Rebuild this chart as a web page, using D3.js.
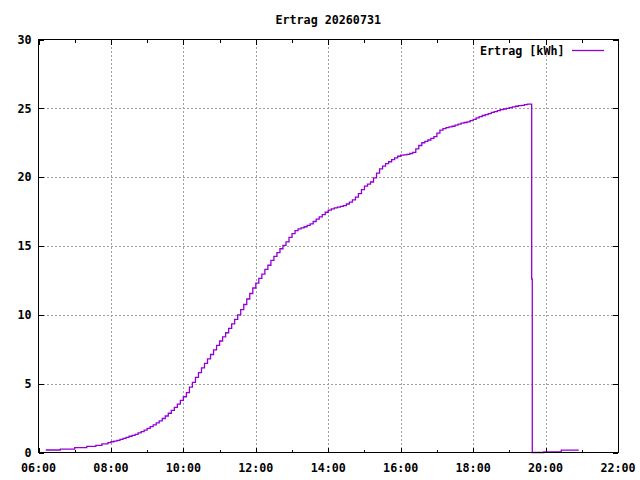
<html>
<head>
  <script src="https://d3js.org/d3.v7.min.js"></script>
  <style>
    body { margin: 0; background: white; }
    text { font-family: "DejaVu Sans Mono", monospace; font-size: 11.7px; font-weight: bold; fill: black; }
    .grid line { stroke: #a0a0a0; stroke-width: 1; stroke-dasharray: 2,2; shape-rendering: crispEdges; }
    .tick-mark { stroke: black; stroke-width: 1; shape-rendering: crispEdges; }
    .border { fill: none; stroke: black; stroke-width: 1; shape-rendering: crispEdges; }
    .curve { fill: none; stroke: #9400d3; stroke-width: 1.3; }
  </style>
</head>
<body>
<svg id="chart" width="640" height="480"></svg>
<script>
// chart data
const title = "Ertrag 20260731";
const seriesName = "Ertrag [kWh]";
const times = [
  "06:12","06:36","07:00","07:20","07:35","07:45","07:55",
  "08:00","08:05","08:10","08:15","08:20","08:25","08:30","08:35","08:40","08:45","08:50","08:55",
  "09:00","09:05","09:10","09:15","09:20","09:25","09:30","09:35","09:40","09:45","09:50","09:55",
  "10:00","10:05","10:10","10:15","10:20","10:25","10:30","10:35","10:40","10:45","10:50","10:55",
  "11:00","11:05","11:10","11:15","11:20","11:25","11:30","11:35","11:40","11:45","11:50","11:55",
  "12:00","12:05","12:10","12:15","12:20","12:25","12:30","12:35","12:40","12:45","12:50","12:55",
  "13:00","13:05","13:10","13:15","13:20","13:25","13:30","13:35","13:40","13:45","13:50","13:55",
  "14:00","14:05","14:10","14:15","14:20","14:25","14:30","14:35","14:40","14:45","14:50","14:55",
  "15:00","15:05","15:10","15:15","15:20","15:25","15:30","15:35","15:40","15:45","15:50","15:55",
  "16:00","16:05","16:10","16:15","16:20","16:25","16:30","16:35","16:40","16:45","16:50","16:55",
  "17:00","17:05","17:10","17:15","17:20","17:25","17:30","17:35","17:40","17:45","17:50","17:55",
  "18:00","18:05","18:10","18:15","18:20","18:25","18:30","18:35","18:40","18:45","18:50","18:55",
  "19:00","19:05","19:10","19:15","19:20","19:25","19:30",
  "19:37","19:38","19:57","20:26","20:55"
];
const values = [
  0.18,0.25,0.36,0.45,0.52,0.62,0.72,
  0.78,0.83,0.88,0.95,1.02,1.10,1.18,1.25,1.32,1.42,1.52,1.63,
  1.75,1.88,2.01,2.15,2.30,2.47,2.65,2.85,3.06,3.28,3.52,3.78,
  4.05,4.35,4.75,5.10,5.45,5.80,6.15,6.48,6.80,7.12,7.45,7.78,
  8.10,8.40,8.70,9.02,9.35,9.67,10.00,10.38,10.75,11.15,11.55,11.95,
  12.30,12.65,12.95,13.30,13.60,13.95,14.25,14.52,14.80,15.05,15.30,15.62,
  15.90,16.12,16.25,16.32,16.40,16.50,16.60,16.78,16.95,17.12,17.28,17.45,
  17.60,17.70,17.77,17.82,17.88,17.94,18.05,18.18,18.35,18.55,18.80,19.10,
  19.35,19.50,19.65,19.95,20.30,20.60,20.80,20.98,21.12,21.28,21.40,21.52,
  21.60,21.62,21.65,21.72,21.80,22.05,22.30,22.50,22.60,22.70,22.82,22.95,
  23.20,23.42,23.52,23.60,23.65,23.70,23.78,23.86,23.92,23.97,24.02,24.10,
  24.20,24.30,24.40,24.48,24.55,24.62,24.70,24.76,24.84,24.90,24.95,25.00,
  25.05,25.10,25.15,25.20,25.22,25.27,25.30,
  12.60,0.00,0.05,0.17,0.17
];
const xDomain = ["06:00", "22:00"];
const yTicks = [0, 5, 10, 15, 20, 25, 30];

const svg = d3.select("#chart");
const margin = { top: 39.5, right: 22, bottom: 27.5, left: 38.5 };
const width = 640, height = 480;
const x0 = margin.left, x1 = width - margin.right;
const y0 = height - margin.bottom, y1 = margin.top;

const parse = d3.timeParse("%H:%M");
const data = times.map((t, i) => ({ t: parse(t), v: values[i] }));

const x = d3.scaleTime().domain(xDomain.map(parse)).range([x0, x1]);
const y = d3.scaleLinear().domain([0, 30]).range([y0, y1]);

const majorX = x.ticks(d3.timeHour.every(2));
const minorX = x.ticks(d3.timeHour.every(1)).filter(d => d.getHours() % 2 === 1);
const fmt = d3.timeFormat("%H:%M");

// grid
const grid = svg.append("g").attr("class", "grid");
grid.selectAll("line.gx").data(majorX.slice(1, -1)).join("line")
  .attr("x1", d => Math.round(x(d)) + 0.5).attr("x2", d => Math.round(x(d)) + 0.5)
  .attr("y1", y0).attr("y2", y1);
grid.selectAll("line.gy").data(yTicks.slice(1, -1)).join("line")
  .attr("class", "gy")
  .attr("x1", x0).attr("x2", x1)
  .attr("y1", d => Math.round(y(d)) + 0.5).attr("y2", d => Math.round(y(d)) + 0.5);

// tick marks (mirrored, gnuplot style)
const ticks = svg.append("g");
const tk = (x1_, y1_, x2_, y2_) => ticks.append("line").attr("class", "tick-mark")
  .attr("x1", x1_).attr("y1", y1_).attr("x2", x2_).attr("y2", y2_);
majorX.forEach(d => { const px = Math.round(x(d)) + 0.5; tk(px, y0, px, y0 - 5); tk(px, y1, px, y1 + 5); });
minorX.forEach(d => { const px = Math.round(x(d)) + 0.5; tk(px, y0, px, y0 - 3); tk(px, y1, px, y1 + 3); });
yTicks.forEach(d => { const py = Math.round(y(d)) + 0.5; tk(x0, py, x0 + 5, py); tk(x1, py, x1 - 5, py); });

// tick labels
svg.append("g").selectAll("text").data(majorX).join("text")
  .attr("x", d => x(d)).attr("y", 471.5)
  .attr("text-anchor", "middle").text(fmt);
svg.append("g").selectAll("text").data(yTicks).join("text")
  .attr("x", 31.5).attr("y", d => y(d) + 4.2)
  .attr("text-anchor", "end").text(d => d);

// series
const line = d3.line().x(d => x(d.t)).y(d => y(d.v)).curve(d3.curveStepAfter);
svg.append("path").datum(data).attr("class", "curve").attr("d", line);

// border
svg.append("rect").attr("class", "border")
  .attr("x", x0).attr("y", y1).attr("width", x1 - x0).attr("height", y0 - y1);

// title
svg.append("text").attr("x", (x0 + x1) / 2).attr("y", 24)
  .attr("text-anchor", "middle").text(title);

// legend
svg.append("text").attr("x", 564.5).attr("y", 55).attr("text-anchor", "end").text(seriesName);
svg.append("line").attr("x1", 572).attr("x2", 604).attr("y1", 50.5).attr("y2", 50.5)
  .attr("stroke", "#9400d3").attr("stroke-width", 1.3);
</script>
</body>
</html>
